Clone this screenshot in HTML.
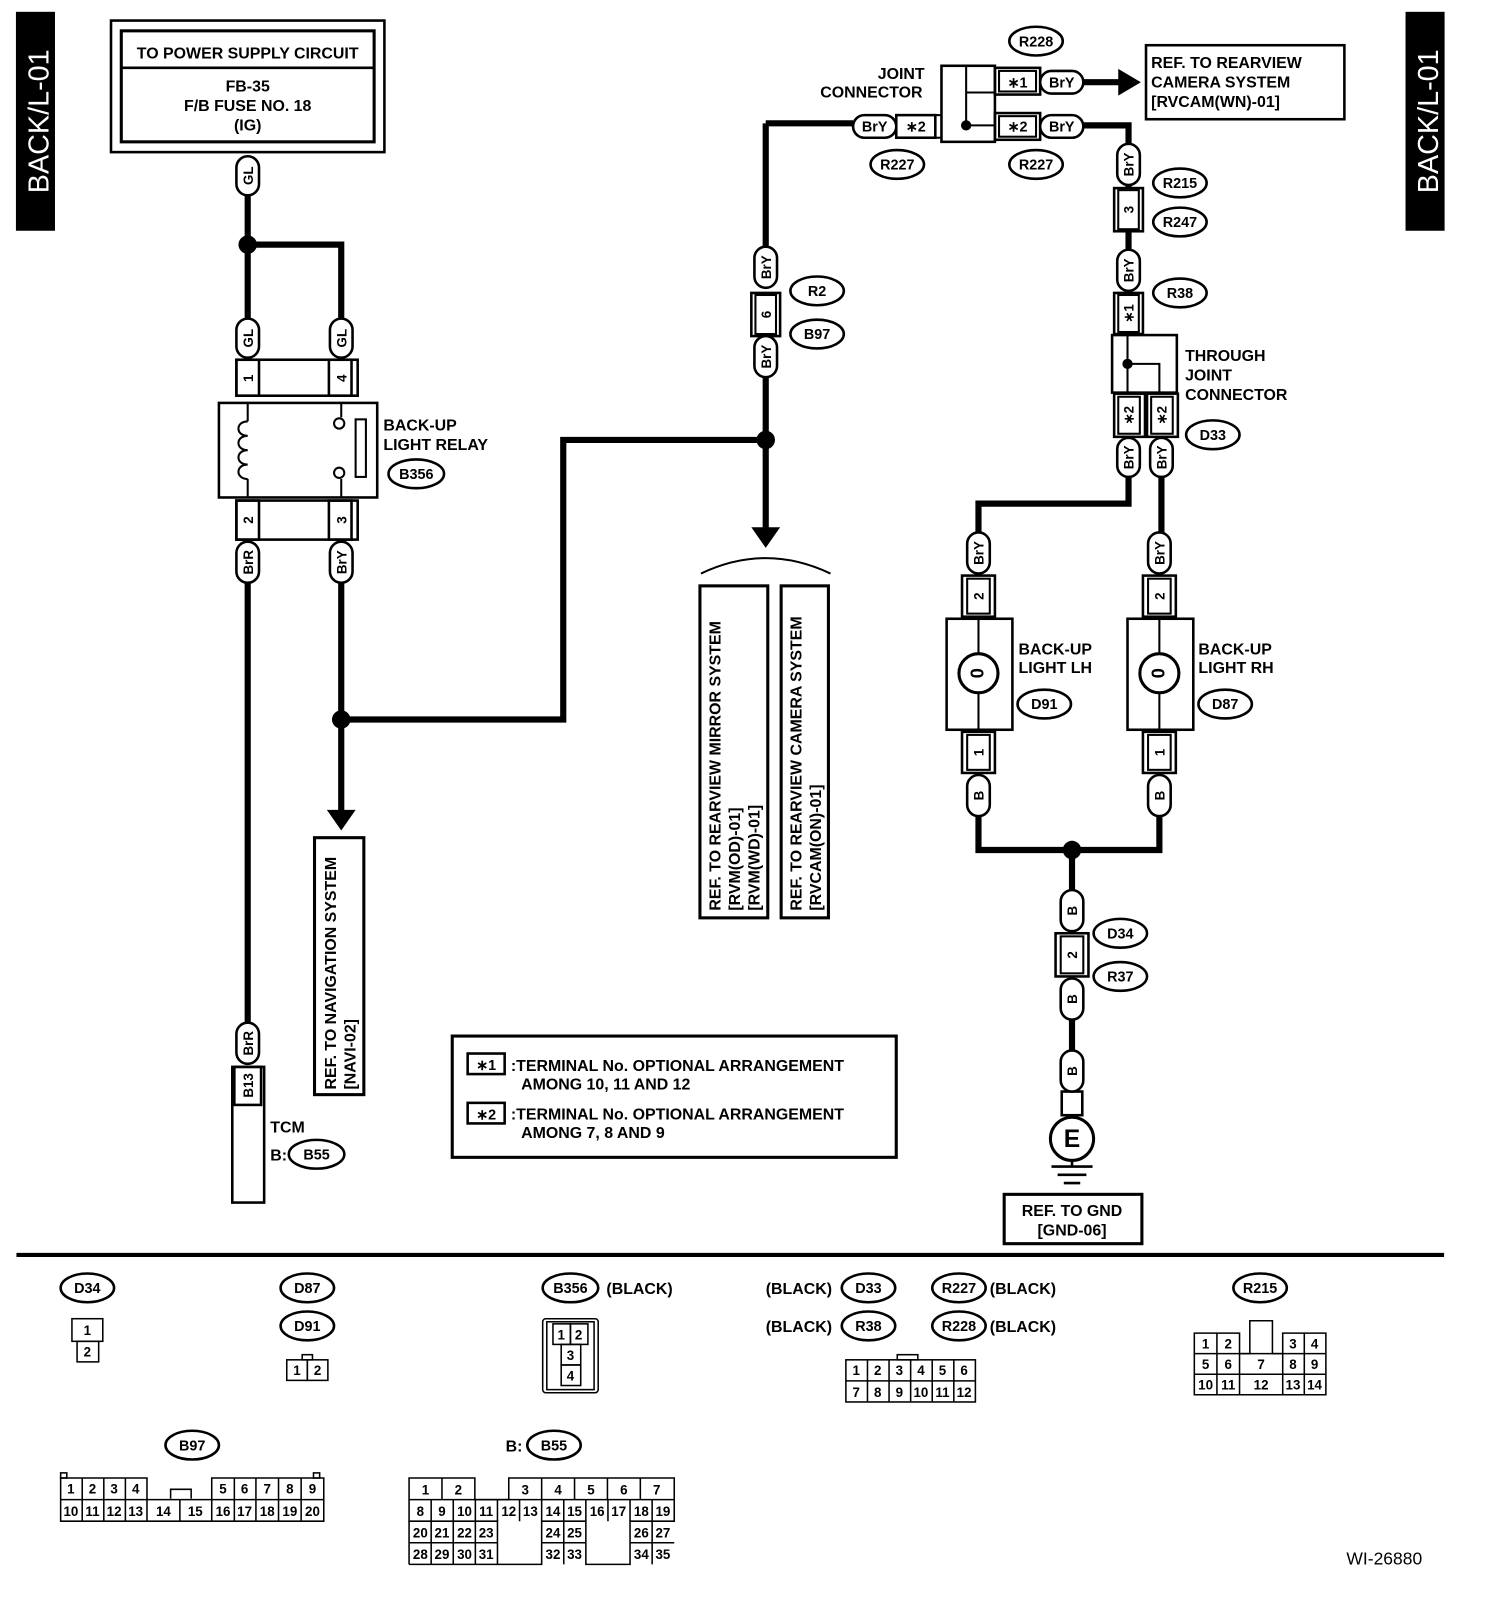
<!DOCTYPE html>
<html><head><meta charset="utf-8"><style>
html,body{margin:0;padding:0;background:#fff}
svg{display:block}
text{font-family:"Liberation Sans",Arial,sans-serif;font-weight:bold;fill:#000}
.t{font-size:15.5px}
.s{font-size:14px}
.p{font-size:13px}
</style></head><body>
<svg width="1504" height="1610" viewBox="0 0 1463.3 1566.4" preserveAspectRatio="none" xmlns="http://www.w3.org/2000/svg">
<g fill="none" stroke="#000">
<rect x="16" y="12" width="37" height="212" fill="#000"/>
<rect x="1368" y="12" width="37" height="212" fill="#000"/>
<rect x="108" y="20" width="266" height="128" stroke-width="2.5"/>
<rect x="118" y="30" width="246" height="108" stroke-width="3"/>
<line x1="118" y1="66" x2="364" y2="66" stroke-width="2.5"/>
<g stroke-width="6">
<path d="M241 190V310M241 238H332V310"/>
<path d="M241 567V995"/>
<path d="M332 567V790M332 700H548V428H745"/>
<path d="M745 120V240M745 367V515M745 120H830"/>
<path d="M1052 122H1098V140M1098 180V183M1098 225V243M1098 282V285"/>
<path d="M1098 464V490H952V518M1130 464V518"/>
<path d="M952 794V827H1128V794M1043 827V866M1043 992V1022"/>
</g>
<line x1="1052" y1="80" x2="1090" y2="80" stroke-width="6"/>
<polygon points="1088,67 1110,80 1088,93" fill="#000" stroke="none"/>
<polygon points="318,788 346,788 332,808" fill="#000" stroke="none"/>
<polygon points="731,513 759,513 745,533" fill="#000" stroke="none"/>
<path d="M682 558Q745 528 808 558" stroke-width="2"/>
<g fill="#000" stroke="none">
<circle cx="241" cy="238" r="9"/><circle cx="332" cy="700" r="9"/><circle cx="745" cy="428" r="9"/><circle cx="1043" cy="827" r="9"/>
<circle cx="940" cy="122" r="5"/><circle cx="1097" cy="354" r="5"/>
</g>
<rect x="230" y="350" width="118" height="35" stroke-width="2.5"/>
<rect x="230" y="350" width="22" height="35" stroke-width="2.5"/>
<rect x="320" y="350" width="22" height="35" stroke-width="2.5"/>
<rect x="213" y="392" width="154" height="92" stroke-width="2.5"/>
<rect x="230" y="487" width="118" height="38" stroke-width="2.5"/>
<rect x="230" y="487" width="22" height="38" stroke-width="2.5"/>
<rect x="320" y="487" width="22" height="38" stroke-width="2.5"/>
<path d="M241 392V410M241 466V484M332 392V406M332 466V484" stroke-width="2"/>
<path d="M241 410c-12 0-12 14 0 14c-12 0-12 14 0 14c-12 0-12 14 0 14c-12 0-12 14 0 14" stroke-width="2"/>
<circle cx="330" cy="412" r="5" stroke-width="2" fill="#fff"/>
<circle cx="330" cy="460" r="5" stroke-width="2" fill="#fff"/>
<rect x="346" y="408" width="10" height="56" stroke-width="2"/>
<rect x="228" y="1038" width="26" height="37" stroke-width="2.5"/>
<rect x="226" y="1038" width="31" height="132" stroke-width="2.5"/>
<rect x="306" y="815" width="48" height="250" stroke-width="3"/>
<rect x="681" y="570" width="66" height="323" stroke-width="3"/>
<rect x="760" y="570" width="46" height="323" stroke-width="3"/>
<rect x="731" y="285" width="28" height="42" stroke-width="2.5"/><rect x="735" y="287" width="20" height="38" stroke-width="2"/>
<rect x="916" y="64" width="52" height="74" stroke-width="2.5"/>
<path d="M940 64V122H968M940 90H968" stroke-width="2"/>
<rect x="872" y="112" width="38" height="22" stroke-width="2.5"/>
<rect x="910" y="112" width="6" height="22" stroke-width="2"/>
<rect x="968" y="66" width="44" height="26" stroke-width="2.5"/><rect x="972" y="69" width="36" height="20" stroke-width="2"/>
<rect x="968" y="110" width="44" height="26" stroke-width="2.5"/><rect x="972" y="113" width="36" height="20" stroke-width="2"/>
<rect x="1115" y="44" width="193" height="72" stroke-width="2.5"/>
<rect x="1084" y="183" width="28" height="42" stroke-width="2.5"/><rect x="1088" y="185" width="20" height="38" stroke-width="2"/>
<rect x="1084" y="285" width="28" height="40" stroke-width="2.5"/><rect x="1088" y="287" width="20" height="36" stroke-width="2"/>
<rect x="1082" y="326" width="63" height="56" stroke-width="2.5"/>
<path d="M1097 326V382M1097 354H1128V382" stroke-width="2"/>
<rect x="1084" y="383" width="30" height="42" stroke-width="2.5"/><rect x="1088" y="386" width="21" height="36" stroke-width="2"/>
<rect x="1116" y="383" width="30" height="42" stroke-width="2.5"/><rect x="1120" y="386" width="21" height="36" stroke-width="2"/>
<rect x="936" y="560" width="32" height="40" stroke-width="2.5"/><rect x="941" y="563" width="22" height="34" stroke-width="2"/>
<rect x="921" y="602" width="64" height="108" stroke-width="2.5"/>
<line x1="952" y1="602" x2="952" y2="710" stroke-width="2"/>
<circle cx="952" cy="655" r="19" fill="#fff" stroke-width="3"/>
<rect x="936" y="712" width="32" height="40" stroke-width="2.5"/><rect x="941" y="715" width="22" height="34" stroke-width="2"/>
<rect x="1112" y="560" width="32" height="40" stroke-width="2.5"/><rect x="1117" y="563" width="22" height="34" stroke-width="2"/>
<rect x="1097" y="602" width="64" height="108" stroke-width="2.5"/>
<line x1="1128" y1="602" x2="1128" y2="710" stroke-width="2"/>
<circle cx="1128" cy="655" r="19" fill="#fff" stroke-width="3"/>
<rect x="1112" y="712" width="32" height="40" stroke-width="2.5"/><rect x="1117" y="715" width="22" height="34" stroke-width="2"/>
<rect x="1027" y="908" width="32" height="42" stroke-width="2.5"/><rect x="1032" y="911" width="22" height="36" stroke-width="2"/>
<rect x="1033" y="1062" width="20" height="23" stroke-width="2.5"/>
<circle cx="1043" cy="1108" r="21" stroke-width="3"/>
<path d="M1043 1129V1135M1023 1135H1063M1029 1143H1057M1035 1151H1051" stroke-width="2.5"/>
<rect x="977" y="1162" width="134" height="48" stroke-width="3"/>
<rect x="440" y="1008" width="432" height="118" stroke-width="3"/>
<rect x="455" y="1025" width="36" height="20" stroke-width="2.5"/>
<rect x="455" y="1073" width="36" height="20" stroke-width="2.5"/>
<line x1="16" y1="1221" x2="1405" y2="1221" stroke-width="4"/>
</g>

<g fill="#fff" stroke="#000" stroke-width="2.5">
<rect x="230" y="152" width="22" height="38" rx="11"/>
<rect x="230" y="310" width="22" height="38" rx="11"/>
<rect x="321" y="310" width="22" height="38" rx="11"/>
<rect x="230" y="527" width="22" height="40" rx="11"/>
<rect x="321" y="527" width="22" height="40" rx="11"/>
<rect x="230" y="995" width="22" height="40" rx="11"/>
<rect x="734" y="240" width="22" height="40" rx="11"/>
<rect x="734" y="327" width="22" height="40" rx="11"/>
<rect x="830" y="112" width="42" height="22" rx="11"/>
<rect x="1012" y="69" width="42" height="22" rx="11"/>
<rect x="1012" y="112" width="42" height="22" rx="11"/>
<rect x="1087" y="140" width="22" height="40" rx="11"/>
<rect x="1087" y="243" width="22" height="40" rx="11"/>
<rect x="1087" y="426" width="22" height="38" rx="11"/>
<rect x="1119" y="426" width="22" height="38" rx="11"/>
<rect x="941" y="518" width="22" height="40" rx="11"/>
<rect x="1117" y="518" width="22" height="40" rx="11"/>
<rect x="941" y="754" width="22" height="40" rx="11"/>
<rect x="1117" y="754" width="22" height="40" rx="11"/>
<rect x="1032" y="866" width="22" height="40" rx="11"/>
<rect x="1032" y="952" width="22" height="40" rx="11"/>
<rect x="1032" y="1022" width="22" height="40" rx="11"/>
</g>
<g fill="#fff" stroke="#000" stroke-width="2.5">
<ellipse cx="308" cy="1123" rx="27" ry="14"/>
<ellipse cx="405" cy="461" rx="27" ry="14"/>
<ellipse cx="795" cy="283" rx="26" ry="14"/>
<ellipse cx="795" cy="325" rx="26" ry="14"/>
<ellipse cx="873" cy="160" rx="26" ry="14"/>
<ellipse cx="1008" cy="160" rx="26" ry="14"/>
<ellipse cx="1008" cy="40" rx="26" ry="14"/>
<ellipse cx="1148" cy="178" rx="26" ry="14"/>
<ellipse cx="1148" cy="216" rx="26" ry="14"/>
<ellipse cx="1148" cy="285" rx="26" ry="14"/>
<ellipse cx="1180" cy="423" rx="26" ry="14"/>
<ellipse cx="1016" cy="685" rx="26" ry="14"/>
<ellipse cx="1192" cy="685" rx="26" ry="14"/>
<ellipse cx="1090" cy="908" rx="26" ry="14"/>
<ellipse cx="1090" cy="950" rx="26" ry="14"/>
<ellipse cx="85" cy="1253" rx="26" ry="14"/>
<ellipse cx="299" cy="1253" rx="26" ry="14"/>
<ellipse cx="299" cy="1290" rx="26" ry="14"/>
<ellipse cx="555" cy="1253" rx="27" ry="14"/>
<ellipse cx="845" cy="1253" rx="26" ry="14"/>
<ellipse cx="845" cy="1290" rx="26" ry="14"/>
<ellipse cx="933" cy="1253" rx="26" ry="14"/>
<ellipse cx="933" cy="1290" rx="26" ry="14"/>
<ellipse cx="1226" cy="1253" rx="26" ry="14"/>
<ellipse cx="187" cy="1406" rx="26" ry="14"/>
<ellipse cx="539" cy="1406" rx="26" ry="14"/>
</g>

<text x="47" y="118" transform="rotate(-90 47 118)" text-anchor="middle" style="font-size:28px;fill:#fff;font-weight:normal">BACK/L-01</text>
<text x="1399" y="118" transform="rotate(-90 1399 118)" text-anchor="middle" style="font-size:28px;fill:#fff;font-weight:normal">BACK/L-01</text>
<g class="t" text-anchor="middle">
<text x="241" y="57">TO POWER SUPPLY CIRCUIT</text>
<text x="241" y="89">FB-35</text>
<text x="241" y="108">F/B FUSE NO. 18</text>
<text x="241" y="127">(IG)</text>
<text x="1043" y="1183">REF. TO GND</text>
<text x="1043" y="1202">[GND-06]</text>
</g>
<g class="t">
<text x="373" y="419">BACK-UP</text><text x="373" y="438">LIGHT RELAY</text>
<text x="263" y="1102">TCM</text><text x="263" y="1129">B:</text>
<text x="854" y="77">JOINT</text><text x="798" y="95">CONNECTOR</text>
<text x="1120" y="66">REF. TO REARVIEW</text><text x="1120" y="85">CAMERA SYSTEM</text><text x="1120" y="104">[RVCAM(WN)-01]</text>
<text x="1153" y="351">THROUGH</text><text x="1153" y="370">JOINT</text><text x="1153" y="389">CONNECTOR</text>
<text x="991" y="637">BACK-UP</text><text x="991" y="655">LIGHT LH</text>
<text x="1166" y="637">BACK-UP</text><text x="1166" y="655">LIGHT RH</text>
<text x="497" y="1042">:TERMINAL No. OPTIONAL ARRANGEMENT</text>
<text x="507" y="1060">AMONG 10, 11 AND 12</text>
<text x="497" y="1089">:TERMINAL No. OPTIONAL ARRANGEMENT</text>
<text x="507" y="1107">AMONG 7, 8 AND 9</text>
<text x="590" y="1259">(BLACK)</text>
<text x="745" y="1259">(BLACK)</text><text x="745" y="1296">(BLACK)</text>
<text x="963" y="1259">(BLACK)</text><text x="963" y="1296">(BLACK)</text>
<text x="492" y="1412">B:</text>
<text x="1310" y="1522" style="font-weight:normal;font-size:17px">WI-26880</text>
</g>
<g class="t">
<text transform="translate(327 1060) rotate(-90)">REF. TO NAVIGATION SYSTEM</text>
<text transform="translate(346 1060) rotate(-90)">[NAVI-02]</text>
<text transform="translate(701 886) rotate(-90)">REF. TO REARVIEW MIRROR SYSTEM</text>
<text transform="translate(720 886) rotate(-90)">[RVM(OD)-01]</text>
<text transform="translate(739 886) rotate(-90)">[RVM(WD)-01]</text>
<text transform="translate(780 886) rotate(-90)">REF. TO REARVIEW CAMERA SYSTEM</text>
<text transform="translate(799 886) rotate(-90)">[RVCAM(ON)-01]</text>
</g>
<g class="p" text-anchor="middle">
<text transform="translate(246 171) rotate(-90)">GL</text>
<text transform="translate(246 329) rotate(-90)">GL</text>
<text transform="translate(337 329) rotate(-90)">GL</text>
<text transform="translate(246 368) rotate(-90)">1</text>
<text transform="translate(337 368) rotate(-90)">4</text>
<text transform="translate(246 506) rotate(-90)">2</text>
<text transform="translate(337 506) rotate(-90)">3</text>
<text transform="translate(246 547) rotate(-90)">BrR</text>
<text transform="translate(337 547) rotate(-90)">BrY</text>
<text transform="translate(246 1015) rotate(-90)">BrR</text>
<text transform="translate(246 1056) rotate(-90)">B13</text>
<text transform="translate(750 260) rotate(-90)">BrY</text>
<text transform="translate(750 306) rotate(-90)">6</text>
<text transform="translate(750 347) rotate(-90)">BrY</text>
<text transform="translate(1103 160) rotate(-90)">BrY</text>
<text transform="translate(1103 204) rotate(-90)">3</text>
<text transform="translate(1103 263) rotate(-90)">BrY</text>
<text transform="translate(1103 305) rotate(-90)">∗1</text>
<text transform="translate(1103 404) rotate(-90)">∗2</text>
<text transform="translate(1135 404) rotate(-90)">∗2</text>
<text transform="translate(1103 445) rotate(-90)">BrY</text>
<text transform="translate(1135 445) rotate(-90)">BrY</text>
<text transform="translate(957 538) rotate(-90)">BrY</text>
<text transform="translate(1133 538) rotate(-90)">BrY</text>
<text transform="translate(957 580) rotate(-90)">2</text>
<text transform="translate(1133 580) rotate(-90)">2</text>
<text transform="translate(957 732) rotate(-90)">1</text>
<text transform="translate(1133 732) rotate(-90)">1</text>
<text transform="translate(957 774) rotate(-90)">B</text>
<text transform="translate(1133 774) rotate(-90)">B</text>
<text transform="translate(1048 886) rotate(-90)">B</text>
<text transform="translate(1048 929) rotate(-90)">2</text>
<text transform="translate(1048 972) rotate(-90)">B</text>
<text transform="translate(1048 1042) rotate(-90)">B</text>
<text transform="translate(957 655) rotate(-90)" style="font-size:18px">0</text>
<text transform="translate(1133 655) rotate(-90)" style="font-size:18px">0</text>
</g>
<g class="s" text-anchor="middle">
<text x="851" y="128">BrY</text><text x="891" y="128">∗2</text>
<text x="990" y="85">∗1</text><text x="1033" y="85">BrY</text>
<text x="990" y="128">∗2</text><text x="1033" y="128">BrY</text>
<text x="473" y="1041">∗1</text><text x="473" y="1089">∗2</text>
<text x="1043" y="1116" style="font-size:24px">E</text>
</g>
<g class="s" text-anchor="middle">
<text x="308" y="1128">B55</text><text x="405" y="466">B356</text>
<text x="795" y="288">R2</text><text x="795" y="330">B97</text>
<text x="873" y="165">R227</text><text x="1008" y="165">R227</text><text x="1008" y="45">R228</text>
<text x="1148" y="183">R215</text><text x="1148" y="221">R247</text><text x="1148" y="290">R38</text>
<text x="1180" y="428">D33</text><text x="1016" y="690">D91</text><text x="1192" y="690">D87</text>
<text x="1090" y="913">D34</text><text x="1090" y="955">R37</text>
<text x="85" y="1258">D34</text><text x="299" y="1258">D87</text><text x="299" y="1295">D91</text>
<text x="555" y="1258">B356</text><text x="845" y="1258">D33</text><text x="845" y="1295">R38</text>
<text x="933" y="1258">R227</text><text x="933" y="1295">R228</text><text x="1226" y="1258">R215</text>
<text x="187" y="1411">B97</text><text x="539" y="1411">B55</text>
</g>

<g fill="none" stroke="#000" stroke-width="1.5">
<rect x="70" y="1283" width="30" height="22"/><rect x="75" y="1305" width="21" height="20"/>
<rect x="279" y="1323" width="20" height="20"/><rect x="299" y="1323" width="20" height="20"/><rect x="294" y="1318" width="10" height="5"/>
<rect x="528" y="1283" width="54" height="72" rx="3"/><rect x="532" y="1286" width="46" height="66"/>
<rect x="538" y="1288" width="17" height="20"/><rect x="555" y="1288" width="17" height="20"/>
<rect x="546" y="1308" width="19" height="20"/><rect x="546" y="1328" width="19" height="20"/>
<rect x="823" y="1323" width="126" height="41"/>
<path d="M844 1323V1364M865 1323V1364M886 1323V1364M907 1323V1364M928 1323V1364M823 1343.5H949"/>
<rect x="873" y="1318" width="20" height="5"/>
<path d="M1162 1297H1206V1317H1216V1285H1238V1317H1248V1297H1290V1357H1162Z"/>
<path d="M1162 1317H1290M1162 1337H1290M1184 1297V1357M1206 1317V1357M1248 1317V1357M1269 1297V1357"/>
<path d="M59 1438H143V1459H206V1438H315V1480H59Z"/>
<path d="M59 1459H143M206 1459H315M80 1438V1480M101 1438V1480M122 1438V1480M143 1459V1480M175 1459V1480M206 1459V1480M228 1438V1480M249 1438V1480M271 1438V1480M293 1438V1480"/>
<path d="M166 1458V1449H186V1458"/>
<rect x="59" y="1433" width="6" height="5"/><rect x="305" y="1433" width="6" height="5"/>
<path d="M398 1438H462V1459H495V1438H656V1480H613V1522H570V1480H527V1522H484V1480H398Z"/>
<path d="M398 1522V1480M398 1459H656M430 1438V1459M527 1438V1459M559 1438V1459M591 1438V1459M623 1438V1459"/>
<path d="M419.5 1459V1522M441 1459V1522M462.5 1459V1522M484 1459V1480M505.5 1459V1480M527 1459V1480M548.5 1459V1522M570 1459V1480M591.5 1459V1480M613 1459V1480M634.5 1459V1522"/>
<path d="M398 1501H484M527 1501H570M613 1501H656M398 1522H484"/>
</g>
<g style="font-size:13px;font-weight:normal" text-anchor="middle">
<text x="85" y="1299">1</text><text x="85" y="1320">2</text>
<text x="289" y="1338">1</text><text x="309" y="1338">2</text>
<text x="546" y="1303">1</text><text x="563" y="1303">2</text><text x="555" y="1323">3</text><text x="555" y="1343">4</text>
<text x="833" y="1338">1</text><text x="854" y="1338">2</text><text x="875" y="1338">3</text><text x="896" y="1338">4</text><text x="917" y="1338">5</text><text x="938" y="1338">6</text>
<text x="833" y="1359">7</text><text x="854" y="1359">8</text><text x="875" y="1359">9</text><text x="896" y="1359">10</text><text x="917" y="1359">11</text><text x="938" y="1359">12</text>
<text x="1173" y="1312">1</text><text x="1195" y="1312">2</text><text x="1258" y="1312">3</text><text x="1279" y="1312">4</text>
<text x="1173" y="1332">5</text><text x="1195" y="1332">6</text><text x="1227" y="1332">7</text><text x="1258" y="1332">8</text><text x="1279" y="1332">9</text>
<text x="1173" y="1352">10</text><text x="1195" y="1352">11</text><text x="1227" y="1352">12</text><text x="1258" y="1352">13</text><text x="1279" y="1352">14</text>
<text x="69" y="1453">1</text><text x="90" y="1453">2</text><text x="111" y="1453">3</text><text x="132" y="1453">4</text>
<text x="217" y="1453">5</text><text x="238" y="1453">6</text><text x="260" y="1453">7</text><text x="282" y="1453">8</text><text x="304" y="1453">9</text>
<text x="69" y="1475">10</text><text x="90" y="1475">11</text><text x="111" y="1475">12</text><text x="132" y="1475">13</text><text x="159" y="1475">14</text><text x="190" y="1475">15</text>
<text x="217" y="1475">16</text><text x="238" y="1475">17</text><text x="260" y="1475">18</text><text x="282" y="1475">19</text><text x="304" y="1475">20</text>
<text x="414" y="1454">1</text><text x="446" y="1454">2</text><text x="511" y="1454">3</text><text x="543" y="1454">4</text><text x="575" y="1454">5</text><text x="607" y="1454">6</text><text x="639" y="1454">7</text>
<text x="409" y="1475">8</text><text x="430" y="1475">9</text><text x="452" y="1475">10</text><text x="473" y="1475">11</text><text x="495" y="1475">12</text><text x="516" y="1475">13</text><text x="538" y="1475">14</text><text x="559" y="1475">15</text><text x="581" y="1475">16</text><text x="602" y="1475">17</text><text x="624" y="1475">18</text><text x="645" y="1475">19</text>
<text x="409" y="1496">20</text><text x="430" y="1496">21</text><text x="452" y="1496">22</text><text x="473" y="1496">23</text><text x="538" y="1496">24</text><text x="559" y="1496">25</text><text x="624" y="1496">26</text><text x="645" y="1496">27</text>
<text x="409" y="1517">28</text><text x="430" y="1517">29</text><text x="452" y="1517">30</text><text x="473" y="1517">31</text><text x="538" y="1517">32</text><text x="559" y="1517">33</text><text x="624" y="1517">34</text><text x="645" y="1517">35</text>
</g>
</svg>
</body></html>
